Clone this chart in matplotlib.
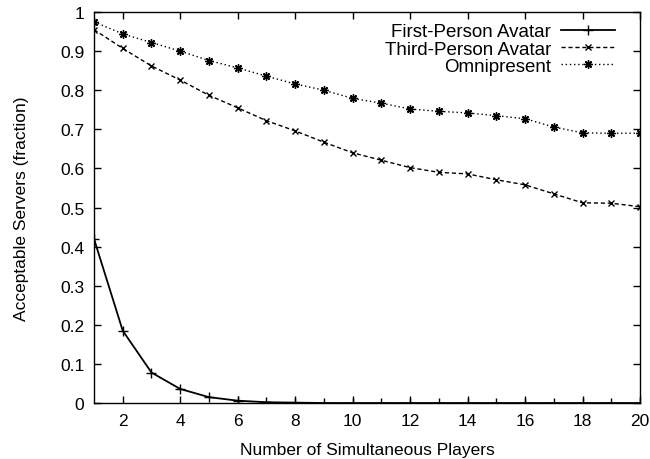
import numpy as np
import matplotlib.pyplot as plt

plt.rcParams['font.family'] = ['Liberation Sans', 'DejaVu Sans']
plt.rcParams['font.size'] = 12.5

players = list(range(1, 21))
first_person = [0.42, 0.185, 0.078, 0.036, 0.015, 0.006, 0.002, 0.001, 0, 0,
                0, 0, 0, 0, 0, 0, 0, 0, 0, 0]
third_person = [0.955, 0.907, 0.862, 0.826, 0.787, 0.755, 0.722, 0.696, 0.667, 0.640,
                0.621, 0.602, 0.590, 0.586, 0.571, 0.558, 0.535, 0.512, 0.511, 0.502]
omnipresent = [0.975, 0.944, 0.922, 0.900, 0.876, 0.857, 0.836, 0.816, 0.800, 0.779,
               0.767, 0.752, 0.746, 0.742, 0.735, 0.727, 0.706, 0.691, 0.690, 0.690]

fig = plt.figure(figsize=(6.5, 4.6), dpi=100)
ax = fig.add_axes([0.1446, 0.1217, 0.84, 0.85])

ax.plot(players, first_person, color='black', lw=1.3, ls='-', marker='+', ms=7,
        mew=1, label='First-Person Avatar')
ax.plot(players, third_person, color='black', lw=1.0, ls=(0, (3, 2)), marker='x', ms=5,
        mew=1, label='Third-Person Avatar')
ax.plot(players, omnipresent, color='black', lw=1.0, ls=(0, (1, 2)), marker=(8, 2, 0), ms=6,
        mew=1, label='Omnipresent')

ax.set_xlim(1, 20)
ax.set_ylim(0, 1)
ax.set_xticks(range(2, 21, 2))
yt = np.round(np.arange(0, 1.01, 0.1), 1)
ax.set_yticks(yt)
ax.set_yticklabels(['0'] + [f'{v:g}' for v in yt[1:-1]] + ['1'])
ax.tick_params(direction='in', top=True, right=True, length=5, width=1, pad=7)
for s in ax.spines.values():
    s.set_linewidth(1)

ax.set_xlabel('Number of Simultaneous Players', labelpad=10)
ax.set_ylabel('Acceptable Servers (fraction)', labelpad=22)

ax.legend(loc='upper right', frameon=False, markerfirst=False, handlelength=2.9,
          borderaxespad=0.2, labelspacing=0.0, handletextpad=0.5, fontsize=13.5,
          bbox_to_anchor=(0.975, 1.0))

fig.savefig('out.png', dpi=100)
